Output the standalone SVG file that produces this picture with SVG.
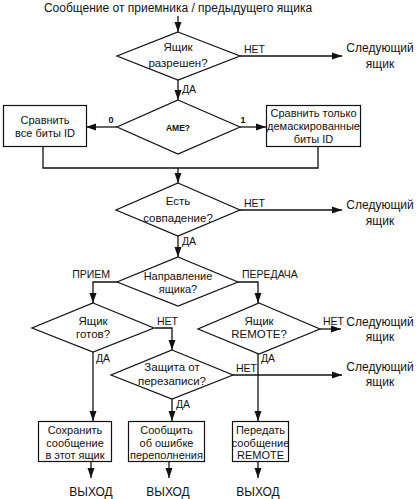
<svg xmlns="http://www.w3.org/2000/svg" width="416" height="499" viewBox="0 0 416 499">
<defs>
<marker id="ah" markerUnits="userSpaceOnUse" markerWidth="10" markerHeight="8" refX="10" refY="4" orient="auto">
<path d="M0,0.5 L10,4 L0,7.5 z" fill="#111"/>
</marker>
<style>
text{font-family:"Liberation Sans",Arial,sans-serif;fill:#111}
.t{font-size:12px}
.d{font-size:11.5px;text-anchor:middle}
.b{font-size:11px;text-anchor:middle}
.l{font-size:10.5px}
.m{font-size:12px;text-anchor:middle}
.s{fill:#fff;stroke:#111;stroke-width:1.2}
.c{fill:none;stroke:#111;stroke-width:1.3}
.a{marker-end:url(#ah)}
</style>
</defs>
<rect width="416" height="499" fill="#fff"/>
<text class="t" x="178" y="12" text-anchor="middle">Сообщение от приемника / предыдущего ящика</text>

<g id="connectors">
<path class="c a" d="M178,16 V32"/>
<path class="c a" d="M240,56 H342"/>
<path class="c a" d="M178,80 V100"/>
<path class="c a" d="M117,127 H86"/>
<path class="c a" d="M240,127 H266"/>
<path class="c" d="M43,147 V168 H318 V146"/>
<path class="c a" d="M178,168 V183"/>
<path class="c a" d="M240,210 H342"/>
<path class="c a" d="M178,236 V257"/>
<path class="c a" d="M117,282 H93 V303"/>
<path class="c a" d="M238,282 H258 V303"/>
<path class="c a" d="M155,328 H172 V350"/>
<path class="c a" d="M93,352 V421"/>
<path class="c a" d="M233,375 H342"/>
<path class="c a" d="M172,399 V421"/>
<path class="c a" d="M320,329 H341"/>
<path class="c a" d="M258,354 V421"/>
<path class="c a" d="M91,462 V478"/>
<path class="c a" d="M169,462 V478"/>
<path class="c a" d="M258,462 V478"/>
<text class="l" x="244" y="53" font-size="10">НЕТ</text>
<text class="l" x="182" y="93">ДА</text>
<text x="111" y="123" font-size="9" font-weight="bold" text-anchor="middle">0</text>
<text x="243" y="123" font-size="9" font-weight="bold" text-anchor="middle">1</text>
<text class="l" x="244" y="207">НЕТ</text>
<text class="l" x="182" y="245">ДА</text>
<text class="l" x="110" y="278" text-anchor="end">ПРИЕМ</text>
<text class="l" x="242" y="278">ПЕРЕДАЧА</text>
<text class="l" x="157" y="325">НЕТ</text>
<text class="l" x="96" y="362">ДА</text>
<text class="l" x="236" y="372">НЕТ</text>
<text class="l" x="176" y="408">ДА</text>
<text class="l" x="323" y="325">НЕТ</text>
<text class="l" x="261" y="362">ДА</text>
</g>

<g id="d1"><polygon class="s" points="178,32 240,56 178,80 117,56"/>
<text class="d" x="178" y="51">Ящик</text><text class="d" x="178" y="67">разрешен?</text></g>
<g id="next1"><text class="m" x="380" y="52">Следующий</text><text class="m" x="380" y="68">ящик</text></g>

<g id="d2"><polygon class="s" points="178,100 240,127 178,154 117,127"/>
<text x="178" y="131" font-size="8.5" font-weight="bold" text-anchor="middle">AME?</text></g>
<g id="box-all"><rect class="s" x="3.5" y="105.5" width="83" height="41"/>
<text class="b" x="45" y="124">Сравнить</text><text class="b" x="45" y="137">все биты ID</text></g>
<g id="box-masked"><rect class="s" x="266.5" y="105.5" width="94" height="41"/>
<text class="b" x="313.5" y="117" font-size="10.5">Сравнить только</text><text class="b" x="313.5" y="130" font-size="10.5">демаскированные</text><text class="b" x="313.5" y="143" font-size="10.5">биты ID</text></g>

<g id="d3"><polygon class="s" points="178,183 240,210 178,236 116,210"/>
<text class="d" x="178" y="205">Есть</text><text class="d" x="178" y="222">совпадение?</text></g>
<g id="next2"><text class="m" x="380" y="209">Следующий</text><text class="m" x="380" y="225">ящик</text></g>

<g id="d4"><polygon class="s" points="178,257 238,282 178,306 117,282"/>
<text class="b" x="178" y="280">Направление</text><text class="b" x="178" y="293">ящика?</text></g>

<g id="d5"><polygon class="s" points="93,303 154,328 93,352 32,328"/>
<text class="d" x="93" y="325">Ящик</text><text class="d" x="93" y="338">готов?</text></g>

<g id="d7"><polygon class="s" points="259,303 320,329 259,354 198,329"/>
<text class="d" x="259" y="325">Ящик</text><text class="d" x="259" y="338">REMOTE?</text></g>
<g id="next3"><text class="m" x="380" y="326">Следующий</text><text class="m" x="380" y="341">ящик</text></g>

<g id="d6"><polygon class="s" points="172,350 233,375 172,399 111,375"/>
<text class="d" x="172" y="371">Защита от</text><text class="d" x="172" y="385">перезаписи?</text></g>
<g id="next4"><text class="m" x="380" y="371">Следующий</text><text class="m" x="380" y="386">ящик</text></g>

<g id="box-save"><rect class="s" x="38.5" y="421.5" width="73" height="40"/>
<text class="b" x="75" y="434">Сохранить</text><text class="b" x="75" y="447">сообщение</text><text class="b" x="75" y="459">в этот ящик</text></g>
<g id="box-overflow"><rect class="s" x="128.5" y="421.5" width="76" height="40"/>
<text class="b" x="166.5" y="434">Сообщить</text><text class="b" x="166.5" y="447">об ошибке</text><text class="b" x="166.5" y="459">переполнения</text></g>
<g id="box-remote"><rect class="s" x="232.5" y="421.5" width="56" height="40"/>
<text class="b" x="260.5" y="434">Передать</text><text class="b" x="260.5" y="447">сообщение</text><text class="b" x="260.5" y="459">REMOTE</text></g>

<g id="exits"><text class="m" x="91" y="496">ВЫХОД</text><text class="m" x="168" y="496">ВЫХОД</text><text class="m" x="258" y="496">ВЫХОД</text></g>
</svg>
